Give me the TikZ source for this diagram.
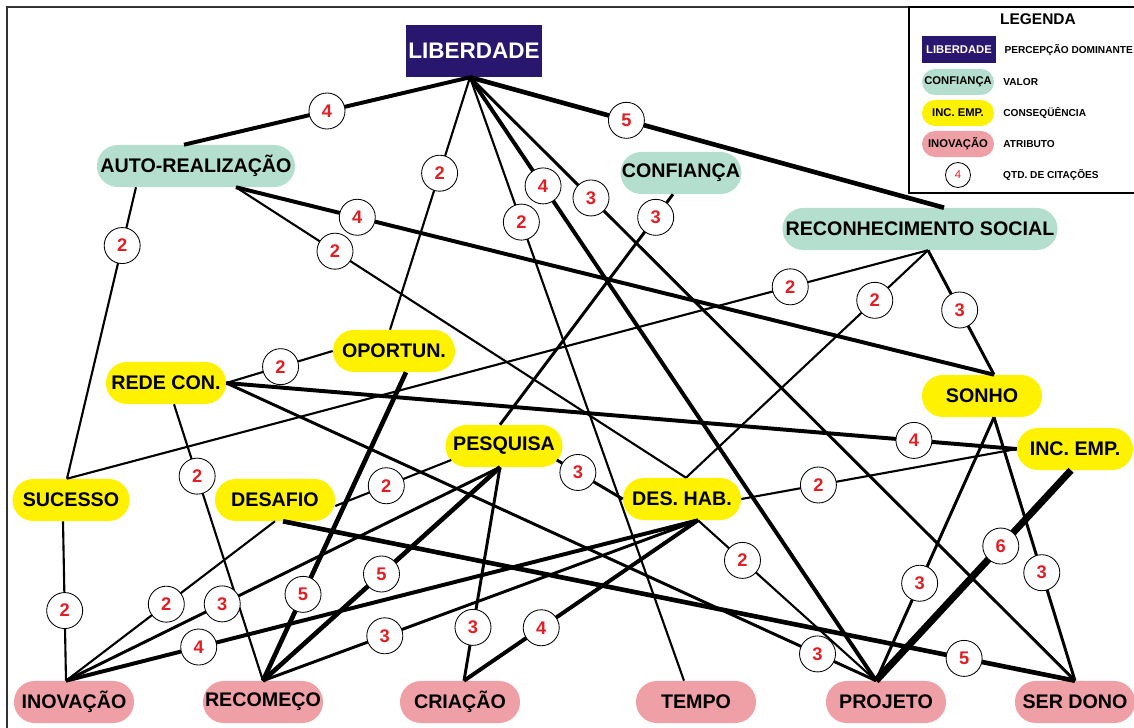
\documentclass[tikz,border=0pt]{standalone}
\usepackage{fontspec}
\setmainfont{Liberation Sans}
\usepackage{tikz}
\usetikzlibrary{positioning}
\definecolor{navybox}{RGB}{40,22,111}
\definecolor{valgreen}{RGB}{180,222,205}
\definecolor{csqyellow}{RGB}{255,242,0}
\definecolor{atrpink}{RGB}{239,160,166}
\definecolor{citred}{RGB}{225,30,36}
\tikzset{
  conc/.style={
    rectangle, rounded corners=5.2mm, minimum width=30mm,
    minimum height=10.5mm, inner sep=1pt, text centered,
    font=\bfseries\fontsize{14}{16}\selectfont
  },
  dom/.style={rectangle, fill=navybox, text=white, minimum width=34mm,
    minimum height=13mm, inner sep=1pt,
    font=\bfseries\fontsize{16}{18}\selectfont},
  val/.style={conc, fill=valgreen},
  csq/.style={conc, fill=csqyellow},
  atr/.style={conc, fill=atrpink},
  cit/.style={circle, draw=black, line width=0.6pt, fill=white,
    minimum size=9mm, inner sep=0pt, text=citred,
    font=\bfseries\fontsize{13}{15}\selectfont},
  key/.style={minimum width=18mm, minimum height=6.5mm,
    rounded corners=3.25mm, inner sep=0pt,
    font=\bfseries\fontsize{8}{9}\selectfont},
  keytxt/.style={inner sep=0pt, font=\bfseries\fontsize{7.2}{8}\selectfont},
  c2/.style={line width=1.5pt},
  c3/.style={line width=2.1pt},
  c4/.style={line width=2.8pt},
  c5/.style={line width=3.3pt},
  c6/.style={line width=5pt}
}
\begin{document}
\begin{tikzpicture}[x=0.025cm, y=-0.025cm]
  \useasboundingbox (0,0) rectangle (1134,728);
  \draw[line width=1.8pt, black!80] (7,7) rectangle (1150,745);

  % percepcao dominante e valores
  \node[dom] (lib) at (474,51) {LIBERDADE};
  \node[val, minimum width=49.5mm] (auto) at (196,166) {AUTO-REALIZAÇÃO};
  \node[val] (conf) at (681,173) {CONFIANÇA};
  \node[val, minimum width=68.75mm] (rs) at (920,229) {RECONHECIMENTO SOCIAL};

  % consequencias
  \node[csq, minimum width=30.5mm] (oport) at (394,351) {OPORTUN.};
  \node[csq] (rede) at (166,383) {REDE CON.};
  \node[csq, minimum width=29.25mm] (suc) at (71,500) {SUCESSO};
  \node[csq] (desaf) at (275,500) {DESAFIO};
  \node[csq, minimum width=29.25mm] (pesq) at (504,446) {PESQUISA};
  \node[csq, minimum width=29.5mm] (deshab) at (682,499) {DES. HAB.};
  \node[csq] (sonho) at (982,396) {SONHO};
  \node[csq, minimum width=29mm] (incemp) at (1075,449) {INC. EMP.};

  % atributos
  \node[atr] (inov) at (74,702) {INOVAÇÃO};
  \node[atr] (recom) at (263,702) {RECOMEÇO};
  \node[atr] (cria) at (460,702) {CRIAÇÃO};
  \node[atr] (tempo) at (696,702) {TEMPO};
  \node[atr] (proj) at (886,702) {PROJETO};
  \node[atr] (serdono) at (1075,702) {SER DONO};

  \draw[c4] ([xshift=-1mm]lib.south) -- node[cit, pos=.50] {4} ([xshift=-3mm]auto.north);
  \draw[c5] ([xshift=-1mm]lib.south) -- node[cit, pos=.33] {5} ([xshift=6mm]rs.north);
  \draw[c2] ([xshift=-1mm]lib.south) -- node[cit, pos=.38] {2} ([xshift=-1mm]oport.north);
  \draw[c2] ([xshift=-1mm]lib.south) -- node[cit, pos=.24] {2} ([xshift=-3mm]tempo.north);
  \draw[c4] ([xshift=-1mm]lib.south) -- node[cit, pos=.18] {4} ([xshift=-2.5mm]proj.north);
  \draw[c3] ([xshift=-1mm]lib.south) -- node[cit, pos=.20] {3} (serdono.north);

  \draw[c2] ([xshift=-15mm]auto.south) -- node[cit, pos=.20] {2} ([xshift=-1mm]suc.north);
  \draw[c4] ([xshift=10mm]auto.south) -- node[cit, pos=.16] {4} ([xshift=3mm]sonho.north);
  \draw[c2] ([xshift=10mm]auto.south) -- node[cit, pos=.22] {2} ([xshift=1mm]deshab.north);
  \draw[c3] ([xshift=-2mm]conf.south) -- node[cit, pos=.10] {3} ([xshift=-1mm]pesq.north);

  \draw[c2] ([xshift=2mm]rs.south) -- node[cit, pos=.16] {2} ([xshift=-1mm]suc.north);
  \draw[c2] ([xshift=2mm]rs.south) -- node[cit, pos=.22] {2} ([xshift=1mm]deshab.north);
  \draw[c3] ([xshift=2mm]rs.south) -- node[cit, pos=.48] {3} ([xshift=3mm]sonho.north);

  \draw[c3] ([xshift=3mm]sonho.south) -- node[cit, pos=.63] {3} ([xshift=-2.5mm]proj.north);
  \draw[c3] ([xshift=3mm]sonho.south) -- node[cit, pos=.59] {3} (serdono.north);
  \draw[c6] ([xshift=-1mm]incemp.south) -- node[cit, pos=.36] {6} ([xshift=-2.5mm]proj.north);

  \draw[c4] (rede.east) -- node[cit, pos=.87] {4} (incemp.west);
  \draw[c2] (rede.east) -- node[cit, pos=.51] {2} (oport.west);
  \draw[c2] ([xshift=2mm]rede.south) -- node[cit, pos=.26] {2} (recom.north);
  \draw[c3] (rede.east) -- node[cit, pos=.91] {3} ([xshift=-2.5mm]proj.north);

  \draw[c2] (deshab.east) -- node[cit, pos=.28] {2} (incemp.west);
  \draw[c2] ([xshift=4mm]deshab.south) -- node[cit, pos=.25] {2} ([xshift=-2.5mm]proj.north);
  \draw[c4] ([xshift=4mm]deshab.south) -- node[cit, pos=.79] {4} ([xshift=-2mm]inov.north);
  \draw[c3] ([xshift=4mm]deshab.south) -- node[cit, pos=.72] {3} (recom.north);
  \draw[c4] ([xshift=4mm]deshab.south) -- node[cit, pos=.67] {4} ([xshift=1mm]cria.north);

  \draw[c3] ([xshift=-1.5mm, yshift=-3.5mm]pesq.east) -- node[cit, pos=.32] {3} (deshab.west);
  \draw[c2] ([xshift=1.5mm, yshift=-3.5mm]pesq.west) -- node[cit, pos=.56] {2} ([yshift=-1.5mm]desaf.east);
  \draw[c3] ([xshift=-1mm]pesq.south) -- node[cit, pos=.75] {3} ([xshift=1mm]cria.north);
  \draw[c5] ([xshift=-1mm]pesq.south) -- node[cit, pos=.50] {5} (recom.north);
  \draw[c3] ([xshift=-1mm]pesq.south) -- node[cit, pos=.64] {3} ([xshift=-2mm]inov.north);

  \draw[c2] (desaf.south) -- node[cit, pos=.52] {2} ([xshift=-2mm]inov.north);
  \draw[c5] ([xshift=2mm]desaf.south) -- node[cit, pos=.86] {5} (serdono.north);
  \draw[c5] ([xshift=3mm]oport.south) -- node[cit, pos=.72] {5} (recom.north);
  \draw[c2] ([xshift=-2mm]suc.south) -- node[cit, pos=.56] {2} ([xshift=-2mm]inov.north);

  % legenda
  \draw[line width=1pt, fill=white] (909,7) rectangle (1150,193);
  \node[font=\bfseries\fontsize{11}{13}\selectfont] (legtit) at (1038,19) {LEGENDA};
  \node[dom, key, rounded corners=0pt, minimum width=18.5mm, minimum height=6.75mm] (kdom) at (959,50) {LIBERDADE};
  \node[key, fill=valgreen] (kval) at (958,82) {CONFIANÇA};
  \node[key, fill=csqyellow] (kcsq) at (958,113) {INC. EMP.};
  \node[key, fill=atrpink] (katr) at (958,144) {INOVAÇÃO};
  \node[cit, minimum size=6.25mm, font=\fontsize{8}{9}\selectfont] (kcit) at (958,175) {4};
  \node[keytxt, right=2mm of kdom] {PERCEPÇÃO DOMINANTE};
  \node[keytxt, right=2.2mm of kval] {VALOR};
  \node[keytxt, right=2.2mm of kcsq] {CONSEQÜÊNCIA};
  \node[keytxt, right=2.2mm of katr] {ATRIBUTO};
  \node[keytxt, right=8mm of kcit] {QTD. DE CITAÇÕES};
\end{tikzpicture}
\end{document}
